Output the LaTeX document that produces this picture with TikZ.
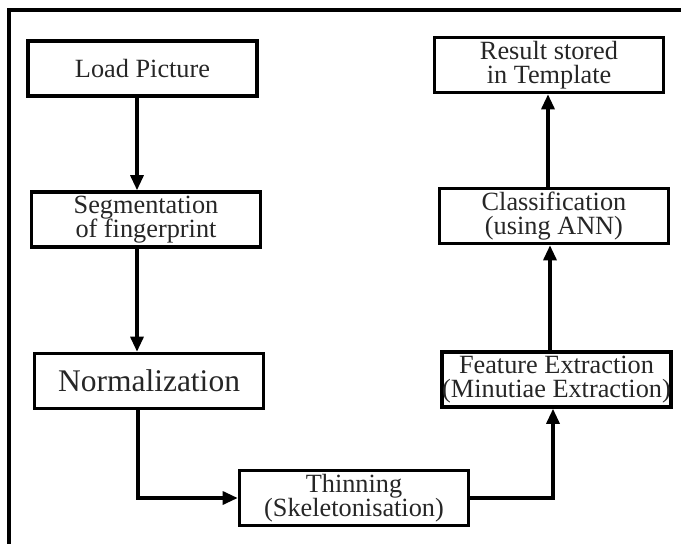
\documentclass[tikz,border=0pt]{standalone}
\usepackage{fontspec}
\setmainfont{Liberation Serif}
\usetikzlibrary{arrows.meta}
\tikzset{
  stage/.style={draw, line width=3.6pt, minimum width=229pt, minimum height=55pt,
    inner sep=0pt, align=center, text=black!85,
    font=\fontsize{26.3}{24.5}\selectfont},
  flow/.style={line width=3.2pt, -{Triangle[length=15pt,width=13pt]}}
}
\begin{document}
\begin{tikzpicture}[x=1pt,y=-1pt]
\useasboundingbox (0,0) rectangle (681,544);
\draw[line width=3.6pt] (681,10) -- (9,10) -- (9,544); % frame
\node[stage] (load) at (142.5,68.5) {Load Picture}; % step 1
\node[stage] (seg) at (146,219.5) {Segmentation\\of fingerprint}; % step 2
\node[stage, font=\fontsize{31.5}{30}\selectfont] (norm) at (149,381) {Normalization}; % step 3
\node[stage] (thin) at (354,498) {Thinning\\(Skeletonisation)}; % step 4
\node[stage] (feat) at (556.5,379.5) {Feature Extraction\\(Minutiae Extraction)}; % step 5
\node[stage] (class) at (554,216) {Classification\\(using ANN)}; % step 6
\node[stage] (result) at (549,65) {Result stored\\in Template}; % step 7
\draw[flow] ([xshift=-5.5pt]load.south) -- ([xshift=-5.5pt]load.south |- seg.north);
\draw[flow] ([xshift=-9pt]seg.south) -- ([xshift=-9pt]seg.south |- norm.north);
\draw[flow] ([xshift=-11pt]norm.south) |- (thin.west);
\draw[flow] (thin.east) -| ([xshift=-3.5pt]feat.south);
\draw[flow] ([xshift=-6.5pt]feat.north) -- ([xshift=-6.5pt]feat.north |- class.south);
\draw[flow] ([xshift=-6pt]class.north) -- ([xshift=-6pt]class.north |- result.south);
\end{tikzpicture}
\end{document}
